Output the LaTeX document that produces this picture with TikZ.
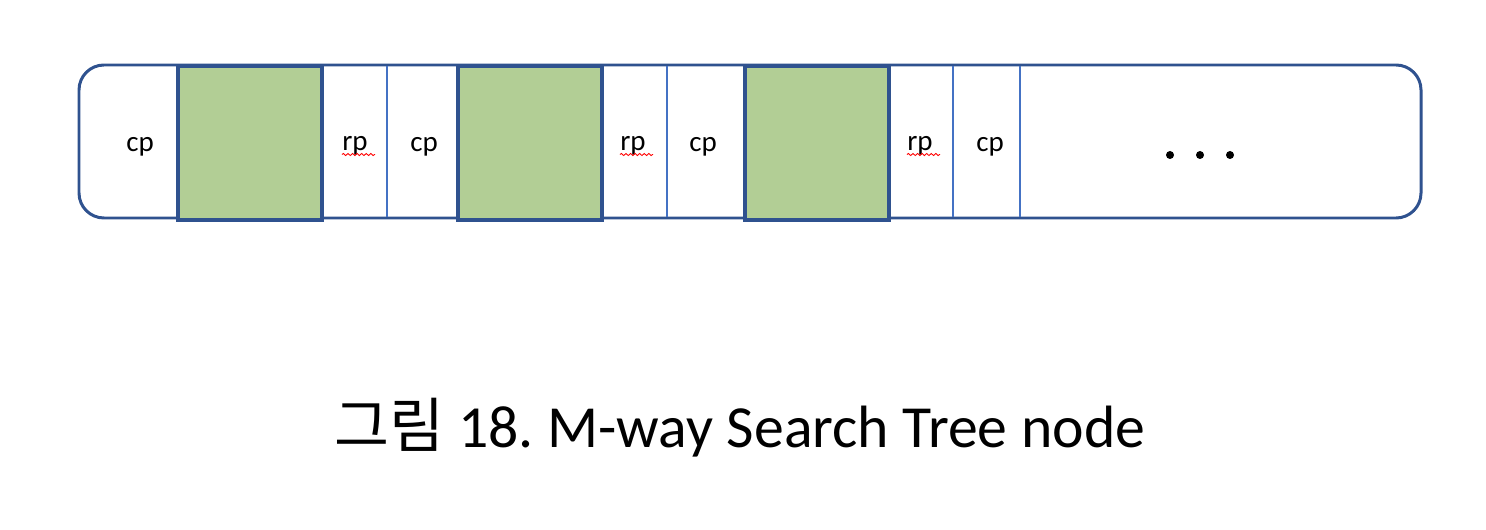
\documentclass[tikz,border=0pt]{standalone}
\usepackage{fontspec}
\setmainfont{Carlito}
\newfontfamily\kofont{Noto Sans CJK KR}
\usetikzlibrary{decorations.pathmorphing}
\definecolor{nodeblue}{HTML}{2F528F}
\definecolor{lineblue}{HTML}{4472C4}
\definecolor{keygreen}{RGB}{178,206,149}
\tikzset{
  keybox/.style = {draw=nodeblue, fill=keygreen, line width=2pt},
  sepline/.style = {draw=lineblue, line width=0.9pt},
  field/.style = {font=\fontsize{16.5}{19}\selectfont, inner sep=0pt, anchor=base},
  typo/.style = {draw=red, line width=0.5pt, decorate, decoration={snake, amplitude=0.6pt, segment length=2.6pt}}
}
\begin{document}
\begin{tikzpicture}[x = 0.02cm, y = -0.02cm]
	\useasboundingbox (0,0) rectangle (1486,530);
	\draw[nodeblue, line width = 1.7pt, rounded corners = 0.5cm] (79,65) rectangle (1421,218);
	\foreach \x in {178,458,745} \draw[keybox] (\x,66) rectangle ++(144,154);
	\foreach \x in {387,667,953,1020} \draw[sepline] (\x,66) -- (\x,217);
	% pointer fields
	\node[field] (cp1) at (140,152) {cp};
	\node[field] (rp1) at (355,151) {rp};
	\node[field] (cp2) at (424,152) {cp};
	\node[field] (rp2) at (633,151) {rp};
	\node[field] (cp3) at (703,152) {cp};
	\node[field] (rp3) at (920,151) {rp};
	\node[field] (cp4) at (990,152) {cp};
	\foreach \n in {rp1,rp2,rp3} \draw[typo] ([yshift=-2pt]\n.base west) -- ([xshift=4pt,yshift=-2pt]\n.base east);
	\foreach \x in {1170,1200,1230} \fill (\x,155) circle (4);
	\node[font = \fontsize{34}{40}\selectfont, anchor = base] (caption) at (740,447) {{\kofont 그림} 18.\ M-way Search Tree node};
\end{tikzpicture}
\end{document}
